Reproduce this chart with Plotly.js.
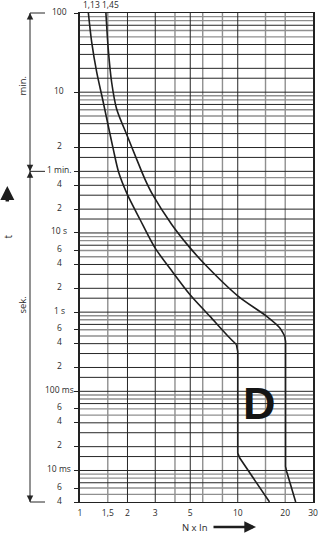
<!DOCTYPE html>
<html><head><meta charset="utf-8">
<script src="https://cdn.plot.ly/plotly-3.0.1.min.js"></script>
<style>html,body{margin:0;padding:0;background:#fff;}#chart{width:325px;height:538px;}</style>
</head><body><div id="chart"></div>
<script>
// Trip curve data: multiple of rated current (N x In) vs time (s)
const curveA_x = [1.13, 1.186, 1.276, 1.39, 1.51, 1.625, 1.76, 1.992, 2.397, 2.983, 3.895, 4.97, 6.65, 8.68, 9.81, 10.0, 10.0, 10.3, 15.9];
const curveA_t = [6000, 2570, 1072, 492, 226, 114.5, 58, 30.9, 14.9, 6.53, 3.15, 1.675, 0.89, 0.497, 0.39, 0.318, 0.0166, 0.01435, 0.004];
const curveB_x = [1.46, 1.51, 1.587, 1.707, 1.992, 2.285, 2.579, 2.876, 3.805, 4.97, 6.34, 10.04, 15.19, 18.44, 19.84, 20.1, 20.1, 20.4, 23.3];
const curveB_t = [6000, 2115, 801, 368, 169, 85.7, 47.9, 30.9, 12.9, 6.53, 3.82, 1.594, 0.89, 0.635, 0.497, 0.425, 0.01125, 0.0098, 0.004];
const kneeA = 14, kneeB = 14; // index where the smooth thermal part ends

// grid (seconds and minutes)
const gridDarkSec = [0.007, 0.01, 0.015, 0.02, 0.03, 0.04, 0.07, 0.1, 0.15, 0.2, 0.3, 0.4, 0.7, 1, 1.5, 2, 3, 4, 7, 10, 15, 20, 30, 40];
const gridGraySec = [0.005, 0.006, 0.008, 0.009, 0.05, 0.06, 0.08, 0.09, 0.5, 0.6, 0.8, 0.9, 5, 6, 8, 9, 50];
const gridDarkMin = [1, 1.5, 2, 3, 4, 7, 10, 15, 20, 30, 40, 70];
const gridGrayMin = [5, 6, 8, 9, 50, 60, 80, 90];
const gridDarkX = [2, 3, 5, 10];
const gridGrayX = [1.5, 4, 6, 8, 15, 20];

// tick labels
const yTickVals = [6000, 600, 120, 60, 40, 20, 10, 6, 4, 2, 1, 0.6, 0.4, 0.2, 0.1, 0.06, 0.04, 0.02, 0.01, 0.006, 0.004];
const yTickText = ["100", "10", "2", "1 min.", "4", "2", "10 s", "6", "4", "2", "1 s", "6", "4", "2", "100 ms", "6", "4", "2", "10 ms", "6", "4"];
const xTickVals = [1, 1.5, 2, 3, 5, 10, 20, 30];
const xTickText = ["1", "1,5", "2", "3", "5", "10", "20", "30"];
const curveLabels = ["1,13", "1,45"];

const X0 = 1, X1 = 30, T0 = 0.004, T1 = 6000;
const lo = Math.log10(T0), hi = Math.log10(T1);
const yFrac = t => (Math.log10(t) - lo) / (hi - lo);
const PW = 233, PH = 489, PL = 80, PT = 13;
const xp = px => (px - PL) / PW;
const yp = py => (PT + PH - py) / PH;

function hLines(vals) { const x = [], y = []; vals.forEach(v => { x.push(X0, X1, null); y.push(v, v, null); }); return {x, y}; }
function vLines(vals) { const x = [], y = []; vals.forEach(v => { x.push(v, v, null); y.push(T0, T1, null); }); return {x, y}; }

const gh = hLines(gridGraySec.concat(gridGrayMin.map(m => m * 60)));
const dh = hLines(gridDarkSec.concat(gridDarkMin.map(m => m * 60)));
const gv = vLines(gridGrayX);
const dv = vLines(gridDarkX);

const gray = '#8f8f8f', dark = '#262626', ink = '#1e1e1e';
const base = {type: 'scatter', mode: 'lines', hoverinfo: 'skip', showlegend: false, connectgaps: false};
const traces = [
  Object.assign({}, base, {x: gh.x, y: gh.y, line: {color: gray, width: 1.4}}),
  Object.assign({}, base, {x: gv.x, y: gv.y, line: {color: gray, width: 1.4}}),
  Object.assign({}, base, {x: dh.x, y: dh.y, line: {color: dark, width: 1}}),
  Object.assign({}, base, {x: dv.x, y: dv.y, line: {color: dark, width: 1}}),
  Object.assign({}, base, {x: curveA_x.slice(0, kneeA + 1), y: curveA_t.slice(0, kneeA + 1), line: {color: ink, width: 1.6, shape: 'spline', smoothing: 0.8}}),
  Object.assign({}, base, {x: curveA_x.slice(kneeA), y: curveA_t.slice(kneeA), line: {color: ink, width: 1.6}}),
  Object.assign({}, base, {x: curveB_x.slice(0, kneeB + 1), y: curveB_t.slice(0, kneeB + 1), line: {color: ink, width: 1.6, shape: 'spline', smoothing: 0.8}}),
  Object.assign({}, base, {x: curveB_x.slice(kneeB), y: curveB_t.slice(kneeB), line: {color: ink, width: 1.6}})
];

const txt = '#2a2a2a';
const ann = [];
yTickVals.forEach((v, i) => {
  ann.push({xref: 'paper', yref: 'y', x: 0, y: Math.log10(v), xshift: -21, yshift: 2, xanchor: 'center', yanchor: 'middle',
    text: yTickText[i], showarrow: false, font: {size: 8.5, color: txt}});
});
ann.push({xref: 'x', yref: 'paper', x: Math.log10(curveA_x[0]), y: 1, xshift: 3, yshift: 1, xanchor: 'center', yanchor: 'bottom', text: curveLabels[0], showarrow: false, font: {size: 8.5, color: txt}});
ann.push({xref: 'x', yref: 'paper', x: Math.log10(curveB_x[0]), y: 1, xshift: 4.5, yshift: 1, xanchor: 'center', yanchor: 'bottom', text: curveLabels[1], showarrow: false, font: {size: 8.5, color: txt}});
// D label
ann.push({xref: 'x', yref: 'y', x: Math.log10(13.78), y: Math.log10(0.0699), xanchor: 'center', yanchor: 'middle', text: '<b>D</b>', showarrow: false,
  font: {size: 45, color: '#141414', family: 'Liberation Sans Narrow, Arial Narrow, sans-serif'}});
// side labels
const C = {xanchor: 'center', yanchor: 'middle', showarrow: false, xref: 'paper', yref: 'paper'};
ann.push(Object.assign({}, C, {x: xp(21.5), y: yp(85), text: 'min.', textangle: -90, font: {size: 9.5, color: txt}}));
ann.push(Object.assign({}, C, {x: xp(21.5), y: yp(305), text: 'sek.', textangle: -90, font: {size: 9.5, color: txt}}));
ann.push(Object.assign({}, C, {x: xp(7.5), y: yp(237), text: 't', textangle: -90, font: {size: 10, color: txt}}));
// t arrow (thick, up)
ann.push({xref: 'paper', yref: 'paper', x: xp(7.3), y: yp(186), ax: 0, ay: 17, text: '', showarrow: true, arrowhead: 2, arrowsize: 0.8, arrowwidth: 3.5, arrowcolor: ink});
// bracket arrowheads
[[1, 8], [yFrac(60), -8], [yFrac(60), 8], [0, -8]].forEach(([yy, d]) => {
  ann.push({xref: 'paper', yref: 'paper', x: xp(30), y: yy, ax: 0, ay: d, text: '', showarrow: true, arrowhead: 2, arrowsize: 1.3, arrowwidth: 1, arrowcolor: dark});
});
// x title and arrow
ann.push(Object.assign({}, C, {x: xp(194.5), y: yp(527), text: 'N x In', font: {size: 9.5, color: txt}}));
ann.push({xref: 'paper', yref: 'paper', x: xp(256), y: yp(527), ax: -44, ay: 0, text: '', showarrow: true, arrowhead: 2, arrowsize: 0.9, arrowwidth: 2.6, arrowcolor: ink});

const shapes = [];
[T1, 60, T0].forEach(t => {
  shapes.push({type: 'line', xref: 'paper', yref: 'paper', x0: xp(30), x1: xp(45), y0: yFrac(t), y1: yFrac(t), line: {color: dark, width: 1}});
});
shapes.push({type: 'line', xref: 'paper', yref: 'paper', x0: xp(30), x1: xp(30), y0: 0, y1: 1, line: {color: dark, width: 1}});

const layout = {
  width: 325, height: 538,
  margin: {l: PL, r: 325 - PL - PW, t: PT, b: 538 - PT - PH, pad: 0},
  paper_bgcolor: '#fff', plot_bgcolor: '#fff', showlegend: false,
  font: {family: 'Open Sans, sans-serif', size: 8.5, color: txt},
  xaxis: {type: 'log', range: [0, Math.log10(X1)], tickvals: xTickVals, ticktext: xTickText, ticks: '', showgrid: false, zeroline: false,
    showline: true, mirror: true, linecolor: '#222', linewidth: 1, tickfont: {size: 8.5, color: txt}, ticklabelstandoff: 3, fixedrange: true},
  yaxis: {type: 'log', range: [lo, hi], tickvals: yTickVals, ticks: 'outside', ticklen: 4, tickwidth: 1, tickcolor: '#222',
    showticklabels: false, showgrid: false, zeroline: false, showline: true, mirror: true, linecolor: '#222', linewidth: 1.6, fixedrange: true},
  annotations: ann,
  shapes: shapes
};

Plotly.newPlot('chart', traces, layout, {displayModeBar: false, staticPlot: true});
</script>
</body></html>
